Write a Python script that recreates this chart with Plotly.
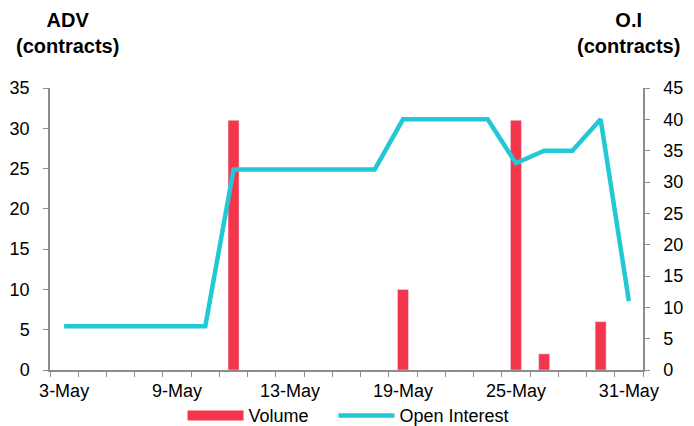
import plotly.graph_objects as go

# Trading days (May)
dates = ["3-May", "4-May", "5-May", "6-May", "9-May", "10-May", "11-May", "12-May",
         "13-May", "16-May", "17-May", "18-May", "19-May", "20-May", "23-May", "24-May",
         "25-May", "26-May", "27-May", "30-May", "31-May"]
volume = [0, 0, 0, 0, 0, 0, 31, 0, 0, 0, 0, 0, 10, 0, 0, 0, 31, 2, 0, 6, 0]
open_interest = [7, 7, 7, 7, 7, 7, 32, 32, 32, 32, 32, 32, 40, 40, 40, 40, 33, 35, 35, 40, 11]
labeled_dates = ["3-May", "9-May", "13-May", "19-May", "25-May", "31-May"]

RED = "#F4364C"
CYAN = "#22C8D3"
GREY = "#8C8C8C"
FONT = "Liberation Sans, Arial, sans-serif"

fig = go.Figure()
fig.add_trace(go.Bar(x=dates, y=volume, name="Volume", marker_color=RED,
                     showlegend=False, yaxis="y"))
# legend entry for Volume drawn as a wide red swatch
fig.add_trace(go.Scatter(x=[None], y=[None], name="Volume", mode="lines",
                         line=dict(color=RED, width=10), yaxis="y", legend="legend"))
fig.add_trace(go.Scatter(x=dates, y=open_interest, name="Open Interest", mode="lines",
                         line=dict(color=CYAN, width=4.5), yaxis="y2", legend="legend2"))

ticktext = [d if d in labeled_dates else "" for d in dates]

legend_style = dict(orientation="h", xanchor="left", yanchor="middle", y=-0.162,
                    itemwidth=56, font=dict(size=18), bgcolor="rgba(0,0,0,0)")

fig.update_layout(
    width=686, height=418,
    margin=dict(l=42, r=51, t=80, b=56, autoexpand=False),
    paper_bgcolor="white", plot_bgcolor="white",
    font=dict(family=FONT, size=18, color="#000000"),
    bargap=0.61,
    showlegend=True,
    legend=dict(x=0.2235, **legend_style),
    legend2=dict(x=0.478, **legend_style),
    xaxis=dict(type="category", tickmode="array", tickvals=dates, ticktext=ticktext,
               tickson="boundaries", ticks="outside", ticklen=5, tickcolor=GREY,
               showline=True, linecolor=GREY, linewidth=1.5, showgrid=False,
               tickangle=0, tickfont=dict(size=18), ticklabelstandoff=4),
    yaxis=dict(range=[0, 35], dtick=5, ticks="outside", ticklen=5, tickcolor=GREY,
               showline=True, linecolor=GREY, linewidth=1.5, showgrid=False,
               zeroline=False, ticklabelstandoff=10, tickfont=dict(size=18)),
    yaxis2=dict(range=[0, 45], dtick=5, overlaying="y", side="right", ticks="outside",
                ticklen=5, tickcolor=GREY, showline=True, linecolor=GREY, linewidth=1.5,
                showgrid=False, zeroline=False, ticklabelstandoff=10,
                tickfont=dict(size=18)),
    annotations=[
        dict(text="<b>ADV<br>(contracts)</b>", xref="paper", yref="paper",
             x=0.0295, y=1.2858, xanchor="center", yanchor="top", showarrow=False,
             font=dict(size=20, family=FONT)),
        dict(text="<b>O.I<br>(contracts)</b>", xref="paper", yref="paper",
             x=0.975, y=1.2858, xanchor="center", yanchor="top", showarrow=False,
             font=dict(size=20, family=FONT)),
    ],
)

fig.write_html("out.html")
